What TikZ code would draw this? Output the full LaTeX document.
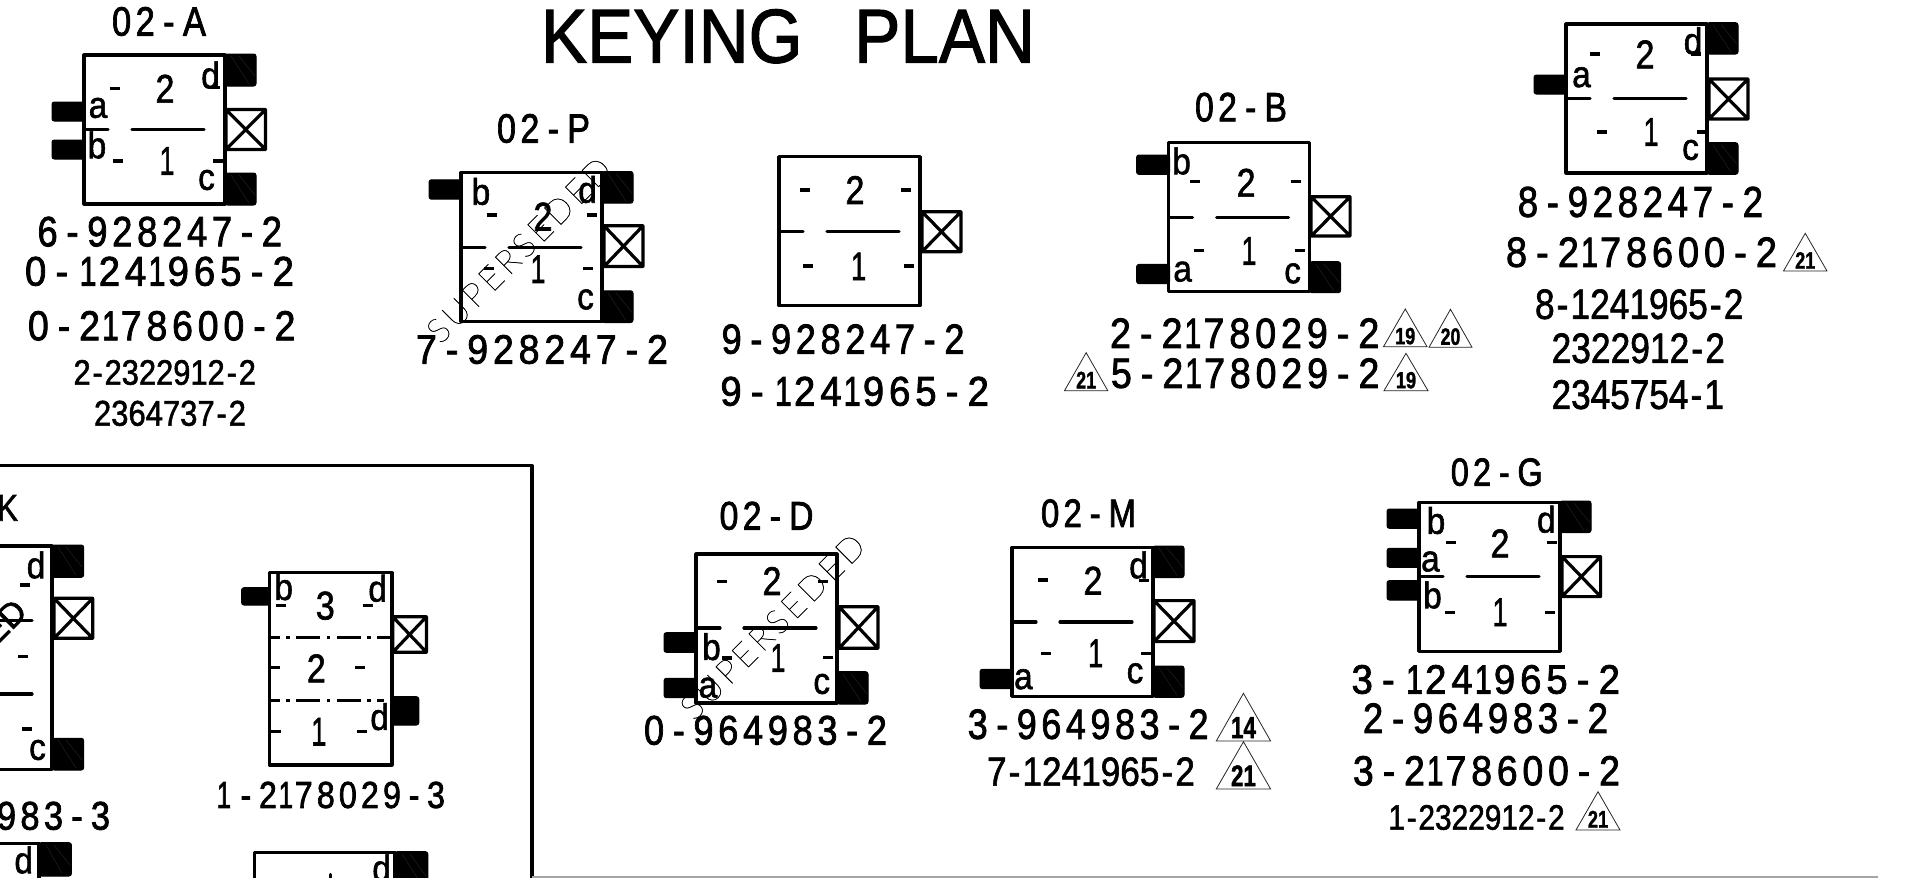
\documentclass[tikz,border=0pt]{standalone}
\usepackage{graphicx}
\usepackage{fontspec}
\setmainfont[FakeBold=1.6]{Liberation Sans}
\newfontfamily\spc[LetterSpace=13,FakeBold=2]{Liberation Sans}
\newfontfamily\nar[FakeBold=1.6]{Liberation Sans}
\newfontfamily\thinf[FakeBold=1]{Lato Hairline}
\newcommand\hy{\kern.24em-\kern.24em}
\newcommand\nh{\kern.06em-\kern.06em}
\newcommand\bo{\makebox[.556em]{\scalebox{.8}[1]{1}}}
\tikzset{
 kline/.style={line width=1.6pt,line join=round,line cap=round},
 kdash/.style={line width=1.7pt},
 pegfill/.style={fill=black,draw=black,line width=.5pt,rounded corners=1.2pt},
 hatchl/.style={draw=black!85,line width=.2pt},
 trl/.style={line width=.4pt,draw=black!85},
 tinyt/.style={inner sep=0pt,outer sep=0pt}
}
\newcommand\lbl[6]{\pgfmathsetlengthmacro\lblw{(#2-#1)*0.5pt}\pgfmathsetlengthmacro\lblh{(#4-#3)*0.5pt}%
 \node[tinyt] at ({(#1+#2)/2},{(#3+#4)/2}) {\resizebox*{\lblw}{\lblh}{#5\fontsize{20}{20}\selectfont #6}};}
\newcommand\sline[5]{\lbl{#1}{#2}{#3}{#4}{\spc}{#5}}
\newcommand\nline[5]{\lbl{#1}{#2}{#3}{#4}{\nar}{#5}}
\newcommand\kbBox[1][149]{\draw[kline] (0,0) rectangle (141,#1);}
\newcommand\kbMid[1]{\draw[kline] (0,#1) -- (24,#1) (48,#1) -- (120,#1);}
\newcommand\kbX[4]{\draw[kline] (#1,#2) rectangle (#3,#4) (#1,#2) -- (#3,#4) (#1,#4) -- (#3,#2);}
\newcommand\pegL[2]{\fill[pegfill] (-32,#1) rectangle (1,#2);}
\newcommand\pegR[3][141]{\fill[pegfill] (#1,#2) rectangle ({#1+31},#3);
 \draw[hatchl] ({#1+6},{#2+2}) -- ({#1+24},{#3-2}) ({#1+14},{#2+2}) -- ({#1+30},{#3-10});}
\newcommand\ch[3]{\node[tinyt] at (#1,#2) {\fontsize{18.5}{18.5}\selectfont\scalebox{.9}[1]{#3}};}
\newcommand\dg[3]{\node[tinyt] at (#1,#2) {\fontsize{20}{20}\selectfont\scalebox{.85}[1]{#3}};}
\newcommand\dsh[2]{\draw[kdash] ({#1-5},#2) -- ({#1+5},#2);}
\newcommand\tri[5]{\draw[trl] (#1,#4) -- ({(#1+#2)/2},#3) -- (#2,#4) -- cycle;
 \pgfmathsetmacro\trw{(#2-#1)*.23}\pgfmathsetmacro\trh{(#4-#3)}%
 \pgfmathsetmacro\tcx{(#1+#2)/2}\pgfmathsetmacro\tya{#4-\trh*.50}\pgfmathsetmacro\tyb{#4-\trh*.06}%
 \pgfmathsetmacro\txa{\tcx-\trw}\pgfmathsetmacro\txb{\tcx+\trw}%
 \lbl{\txa}{\txb}{\tya}{\tyb}{\nar\bfseries}{#5}}
\newcommand\supd[4]{\pgfmathsetlengthmacro\lblw{#3*0.5pt}\pgfmathsetlengthmacro\lblh{#4*0.5pt}%
 \node[tinyt,rotate=45] at (#1,#2) {\resizebox*{\lblw}{\lblh}{\thinf\fontsize{20}{20}\selectfont S\kern.12em U\kern.12em P\kern.12em E\kern.12em R\kern.12em S\kern.12em E\kern.12em D\kern.12em E\kern.12em D}};}
\begin{document}
\begin{tikzpicture}[x=.5pt,y=-.5pt]
\clip (0,0) rectangle (1908,878);
\fill[white] (0,0) rectangle (1908,878);
% title
\lbl{541}{1035}{9.3}{63.3}{\nar}{KEYING\hspace{.75em}PLAN}
% 02-A
\sline{112}{206}{7}{36}{02\hy A}
\begin{scope}[shift={(84,55)}]
\pegR{-1}{31}\pegR{118}{150}\pegL{47}{66}\pegL{85}{104}
\kbBox\kbMid{74.5}\kbX{142}{54.5}{181.5}{94.5}
\dg{81}{33.7}{2}\dg{83}{106}{\bo}
\ch{14}{53}{a}\ch{13}{90}{b}\ch{126.5}{20}{d}\ch{122.5}{125}{c}
\dsh{30.6}{33.3}\dsh{34}{106}\dsh{130.6}{32.7}\dsh{134}{106}
\end{scope}
\sline{37.5}{282}{216.7}{246.7}{6\hy 928247\hy 2}
\sline{25}{294}{256.7}{286}{0\hy \bo 24\bo 965\hy 2}
\sline{28}{295.5}{311}{340.7}{0\hy 2\bo 78600\hy 2}
\nline{73.5}{256}{360}{385}{2\nh 2322912\nh 2}
\nline{94}{246}{400.7}{426}{2364737\nh 2}
% 02-P
\sline{497}{590}{114}{143}{02\hy P}
\begin{scope}[shift={(461,172.5)}]
\pegR{-1}{30.7}\pegR{118.3}{150}\pegL{7.3}{26.7}
\kbBox\kbMid{74.7}\kbX{143}{53.3}{182}{94}
\dg{82}{44}{2}\dg{77}{96.7}{\bo}
\ch{20}{19}{b}\ch{126.5}{17}{d}\ch{124.5}{127}{c}
\dsh{30.5}{42.3}\dsh{130.5}{42.3}\dsh{28}{95.7}\dsh{127}{95.7}
\end{scope}
\sline{416}{668}{335}{364}{7\hy 928247\hy 2}
\supd{519}{250}{245}{24}
% no label, 9-928247
\begin{scope}[shift={(779,156.7)}]
\kbBox\kbMid{75}\kbX{143}{55}{182}{95}
\dg{76}{33.3}{2}\dg{79.6}{109.7}{\bo}
\dsh{26}{33.3}\dsh{126.5}{33.3}\dsh{29}{109.3}\dsh{130}{109.3}
\end{scope}
\sline{721.6}{964.5}{324.3}{354}{9\hy 928247\hy 2}
\sline{720.4}{989}{376.7}{406}{9\hy \bo 24\bo 965\hy 2}
% 02-B
\sline{1195}{1287}{92.7}{121.7}{02\hy B}
\begin{scope}[shift={(1168.6,142.7)}]
\pegL{12.3}{31.7}\pegL{121.7}{141}\pegR{119}{150}
\kbBox\kbMid{74.7}\kbX{142.5}{54}{181.5}{93.3}
\dg{77.5}{40}{2}\dg{80.4}{108.3}{\bo}
\ch{13}{18.3}{b}\ch{14}{129}{a}\ch{124}{130.7}{c}
\dsh{26.5}{39}\dsh{30}{108}\dsh{127}{39}\dsh{131}{108}
\end{scope}
\sline{1110}{1379.4}{318.3}{348.3}{2\hy 2\bo 78029\hy 2}
\sline{1111}{1379.4}{358.3}{388.3}{5\hy 2\bo 78029\hy 2}
\tri{1383.5}{1427}{309}{346.7}{19}
\tri{1429}{1472}{309.3}{347.3}{20}
\tri{1384}{1428}{353.3}{390.7}{19}
\tri{1064.5}{1107.8}{352.7}{390.7}{21}
% upper right
\begin{scope}[shift={(1566,24)}]
\pegL{51}{70}\pegR{-1.3}{30}\pegR{118.7}{150.3}
\kbBox\kbMid{74.3}\kbX{143}{55}{182}{95}
\dg{79}{30.3}{2}\dg{85}{108}{\bo}
\ch{15.5}{53.3}{a}\ch{127}{16.7}{d}\ch{124.5}{126}{c}
\dsh{28.5}{30}\dsh{35.5}{108}\dsh{130}{30}\dsh{136}{108}
\end{scope}
\sline{1517.8}{1763}{186.7}{217.3}{8\hy 928247\hy 2}
\sline{1506}{1777}{237.3}{267.3}{8\hy 2\bo 78600\hy 2}
\tri{1783.5}{1827}{233.3}{271}{21}
\nline{1535}{1743.5}{289.3}{319.3}{8\nh 1241965\nh 2}
\nline{1551.6}{1725}{333.3}{363.3}{2322912\nh 2}
\nline{1551.6}{1724}{380}{409.3}{2345754\nh 1}
% lower frame
\draw[kline] (-5,465.7) -- (532,465.7) -- (532,885);
\draw[draw=black!35,line width=.6pt] (532,877) -- (1878,877);
\lbl{-3}{18}{495}{520.7}{\nar}{K}
% clipped K box
\fill[pegfill] (52,545) rectangle (83.7,577.3);
\fill[pegfill] (52,738.3) rectangle (83.7,770);
\draw[hatchl] (58,547) -- (76,575) (66,547) -- (82,567) (58,740) -- (76,768) (66,740) -- (82,760);
\draw[kline] (-5,546) -- (52,546) -- (52,769.3) -- (-5,769.3);
\draw[kline] (54,598.3) rectangle (92.7,638.3) (54,598.3) -- (92.7,638.3) (54,638.3) -- (92.7,598.3);
\draw[kline] (-5,620.7) -- (32,620.7) (-5,694) -- (32,694);
\ch{36}{565}{d}\ch{37.5}{750}{c}
\dsh{25}{585}\dsh{23}{656.7}\dsh{27}{729}
\node[tinyt,rotate=45] at (4,622) {\fontsize{17}{17}\selectfont ED};
\sline{-3}{110}{801.7}{830}{983\hy 3}
% bottom-left clipped
\fill[pegfill] (39,842.7) rectangle (71.4,876);
\draw[hatchl] (46,845) -- (62,873) (54,845) -- (70,865);
\draw[kline] (-5,843.3) -- (39,843.3) -- (39,885);
\ch{23.7}{860}{d}
% 1-2178029-3
\fill[pegfill] (241.6,587.7) rectangle (270,605);
\fill[pegfill] (391,696.7) rectangle (418.8,725);
\draw[kline] (269.4,572.7) rectangle (392,765);
\draw[kline] (392.7,616.7) rectangle (426.5,652.3) (392.7,616.7) -- (426.5,652.3) (392.7,652.3) -- (426.5,616.7);
\draw[line width=1.6pt,dash pattern=on 12pt off 3.2pt on 1.8pt off 3.2pt,dash phase=7pt] (270,637.7) -- (392,637.7);
\draw[line width=1.6pt,dash pattern=on 12pt off 3.2pt on 1.8pt off 3.2pt,dash phase=7pt] (270,700.7) -- (384,700.7);
\ch{283.7}{586.7}{b}\ch{377.6}{588.3}{d}\ch{379.6}{716.7}{d}
\dg{325.3}{605.7}{3}\dg{316.3}{668.3}{2}\dg{318.8}{731.7}{\bo}
\dsh{280.8}{605.7}\dsh{368}{605.7}\dsh{274.5}{667.7}\dsh{360}{667.7}\dsh{275.5}{731.7}\dsh{362.4}{731.7}
\sline{215}{445}{781.7}{808.3}{\bo\hy 2\bo 78029\hy 3}
% bottom clipped box
\fill[pegfill] (395,851.7) rectangle (427.8,890);
\draw[hatchl] (402,854) -- (420,882) (410,854) -- (426,876);
\draw[kline] (254.3,885) -- (254.3,852.7) -- (395,852.7) -- (395,885);
\ch{381.6}{868}{d}
\draw[kline] (330.6,874.5) -- (330.6,885);
% 02-D
\sline{719.6}{813.5}{501.7}{530}{02\hy D}
\begin{scope}[shift={(696,554)}]
\pegL{78.7}{98.3}\pegL{124.3}{143.7}\pegR{117.7}{150}
\kbBox\kbMid{74}\kbX{143}{52.7}{182}{94.3}
\dg{76}{27}{2}\dg{82}{104}{\bo}
\ch{15.5}{92.7}{b}\ch{12}{133.7}{a}\ch{125.7}{130}{c}
\dsh{25.7}{27.7}\dsh{126.5}{27.7}\dsh{31}{104}\dsh{132}{103.7}
\end{scope}
\sline{644}{887}{715.7}{745}{0\hy 964983\hy 2}
\supd{772.5}{626.7}{245}{24}
% 02-M
\sline{1041}{1136}{499.3}{527.3}{02\hy M}
\begin{scope}[shift={(1012,547.3)}]
\pegL{122}{141.3}\pegR{-1.3}{30.3}\pegR{118.7}{150}
\kbBox\kbMid{74.7}\kbX{142}{53.3}{182}{94.3}
\dg{81}{33.3}{2}\dg{83.7}{106}{\bo}
\ch{11.4}{132}{a}\ch{126.5}{17.7}{d}\ch{123}{126}{c}
\dsh{30.6}{32.7}\dsh{34}{106}\dsh{132}{33.3}\dsh{134}{106}
\end{scope}
\sline{967.8}{1208.6}{709.3}{739.3}{3\hy 964983\hy 2}
\nline{987}{1195}{757.3}{786}{7\nh 1241965\nh 2}
\tri{1216.3}{1270.6}{693.3}{741}{14}
\tri{1216.3}{1270.6}{741.7}{789}{21}
% 02-G
\sline{1450.8}{1542.7}{458.3}{486}{02\hy G}
\begin{scope}[shift={(1419,502.3)}]
\pegL{6.7}{26}\pegL{46}{65}\pegL{78.3}{97.7}\pegR{-1.3}{30.3}
\kbBox\kbMid{74.3}\kbX{143}{54.3}{181.6}{94.3}
\dg{81}{41}{2}\dg{81}{110}{\bo}
\ch{17}{18.3}{b}\ch{11.4}{59.3}{a}\ch{13.5}{92.7}{b}\ch{127.3}{17}{d}
\dsh{32}{40.3}\dsh{132.7}{40.3}\dsh{30.6}{110}\dsh{131.4}{110}
\end{scope}
\sline{1351.6}{1620}{665}{694}{3\hy \bo 24\bo 965\hy 2}
\sline{1363}{1608}{703.3}{733.3}{2\hy 964983\hy 2}
\sline{1353}{1620}{756}{785.7}{3\hy 2\bo 78600\hy 2}
\nline{1388.4}{1564.7}{805}{830}{1\nh 2322912\nh 2}
\tri{1576}{1620}{791.7}{830}{21}
\end{tikzpicture}
\end{document}
